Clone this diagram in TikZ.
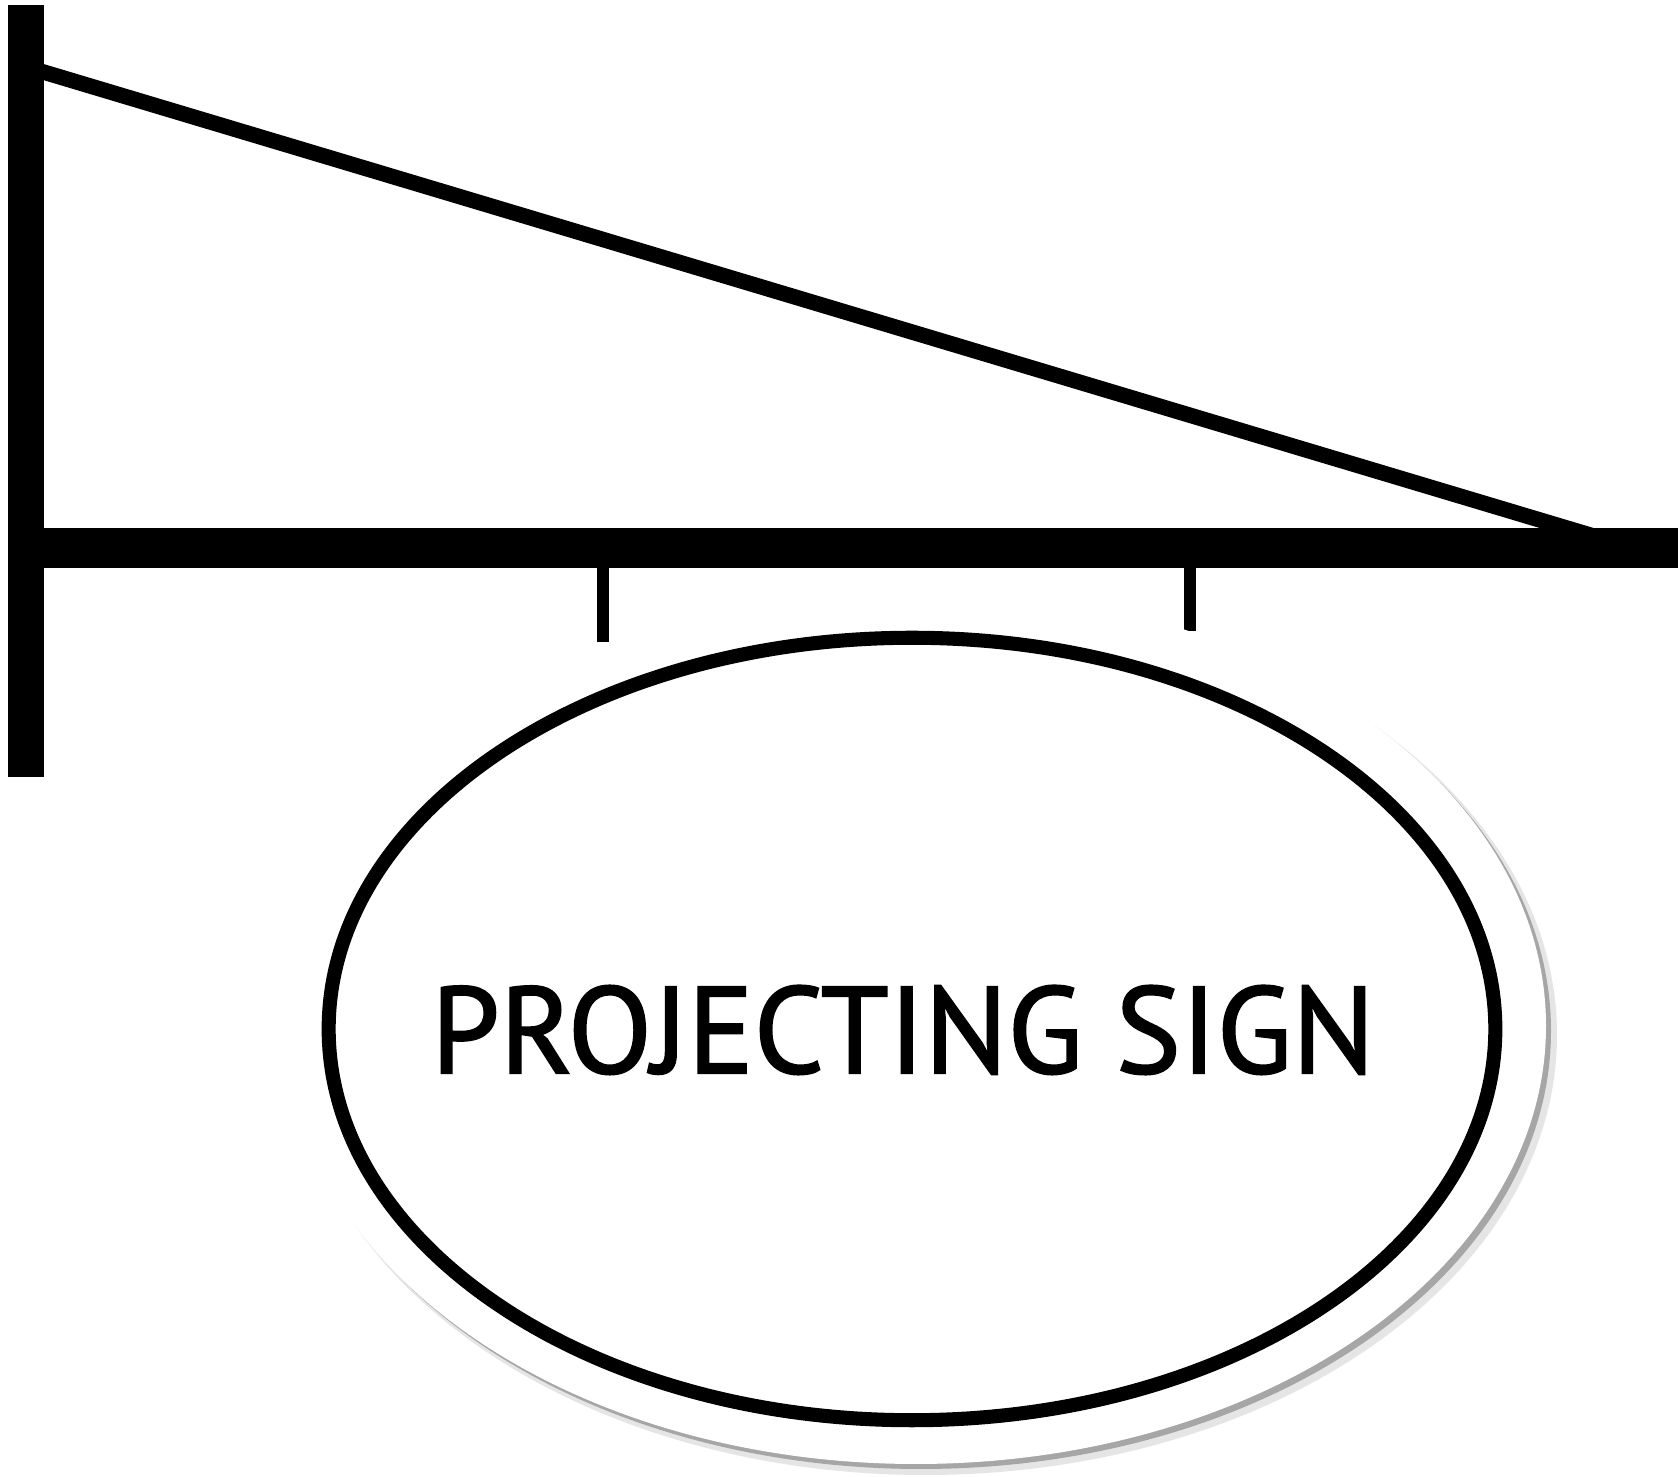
\documentclass[tikz,border=0pt]{standalone}
\usepackage{fontspec}
\setmainfont{PT Sans}
\newfontfamily\signfont[FakeBold=1.6]{PT Sans}
\usetikzlibrary{shapes.geometric}

\begin{document}
\begin{tikzpicture}[x=0.01cm,y=-0.01cm]
\tikzset{
  post/.style={line width=10.2pt,line cap=butt},
  arm/.style={line width=11.4pt,line cap=butt},
  brace/.style={line width=4.4pt,line cap=butt},
  hanger/.style={line width=3.3pt,line cap=butt},
  signboard/.style={ellipse,draw,line width=4pt,minimum width=11.66cm,minimum height=7.82cm,inner sep=0pt}
}
\useasboundingbox[fill=white] (0,0) rectangle (1678,1477);
% wall post and arm
\coordinate (posttop) at (26,5);
\coordinate (postfoot) at (26,777);
\coordinate (armroot) at (26,548);
\coordinate (armtip) at (1678,548);
\coordinate (bracetop) at (40,71);
\coordinate (bracefoot) at (1600,538);
\draw[brace] (bracetop) -- (bracefoot);
\draw[post] (posttop) -- (postfoot);
\draw[arm] (armroot) -- (armtip);
% hangers
\coordinate (hangL) at (603,568);
\coordinate (hangLend) at (603,642);
\coordinate (hangR) at (1190,568);
\coordinate (hangRend) at (1190,631);
\draw[hanger] (hangL) -- (hangLend);
\draw[hanger] (hangR) -- (hangRend);
% shadow behind the sign
\fill[gray!20] (925,1035) ellipse [x radius=632,y radius=440];
\fill[gray!70] (921,1031) ellipse [x radius=630,y radius=438];
\fill[white] (916,1026) ellipse [x radius=630,y radius=438];
% the sign
\node[signboard] (sign) at (912,1029) {};
\node[font=\signfont\fontsize{35}{40}\selectfont] (signtext) at (903,1030) {PROJECTING SIGN};
\end{tikzpicture}
\end{document}
